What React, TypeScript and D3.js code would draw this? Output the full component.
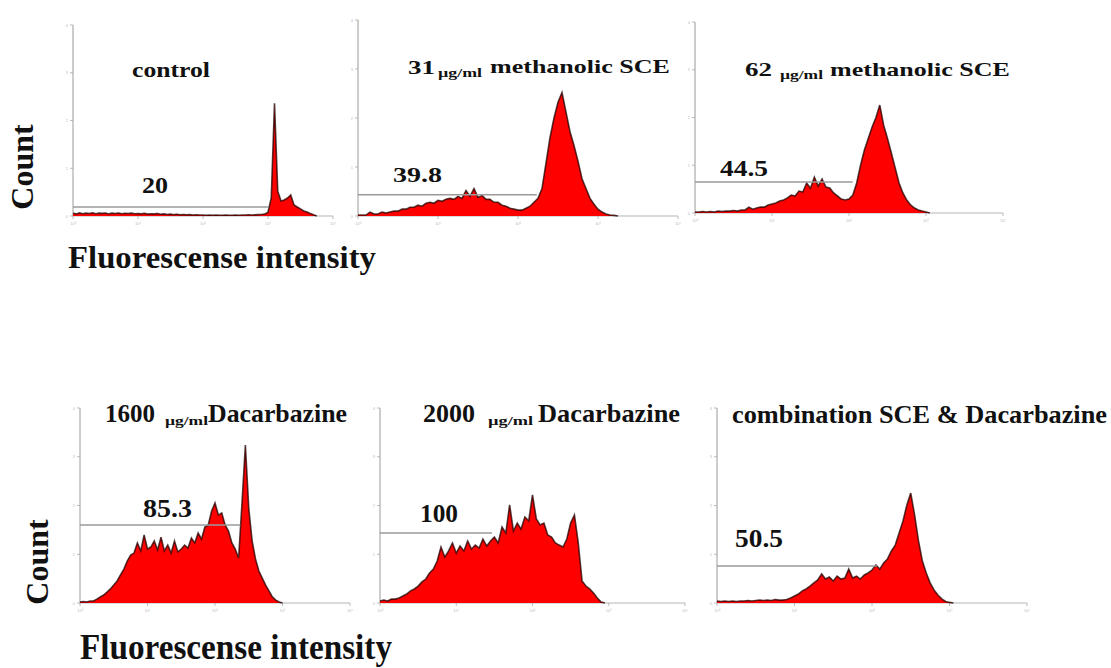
import React from 'react';
import * as d3 from 'd3';

// ---------- data ----------
const binWidth = 3.2; // channel units per histogram bin (256 channels)
const xTickChannels = [0, 64, 128, 192, 256];
const xTickLabels = ['10⁰', '10¹', '10²', '10³', '10⁴'];
const yTickCounts = [0, 25, 50, 75, 100];

const gateLabels = ['20', '39.8', '44.5', '85.3', '100', '50.5'];
const gateEnds = [192, 143, 131, 152, 94, 132];
const gateLevels = [4.7, 10.8, 16.2, 40, 35.9, 19];

const controlCounts = [
  1.4, 1.1, 1.6, 1.2, 1.5, 1.3, 1.7, 1.2, 1.5, 1.4, 1.6, 1.1, 1.5, 1.3, 1.6, 1.2, 1.4, 1.3, 1.5, 1.2,
  1.3, 1.1, 1.4, 1, 1.2, 1.1, 1.3, 0.9, 1.1, 0.8, 1, 0.7, 0.9, 0.6, 0.8, 0.6, 0.7, 0.5, 0.6, 0.5,
  0.5, 0.4, 0.5, 0.4, 0.5, 0.4, 0.4, 0.5, 0.4, 0.4, 0.5, 0.4, 0.5, 0.5, 0.6, 0.5, 0.6, 0.7, 0.8, 1,
  2, 9.4, 59, 13, 7.9, 8.4, 9.4, 11, 5.8, 4.7, 3.7, 2.6, 2.1, 1.3, 0.6, 0,
];
const sce31Counts = [
  0.5, 0.5, 0.5, 2, 1, 1, 2, 1.5, 2, 2.5, 2.5, 3.5, 3.5, 4.5, 4.5, 5.5, 5, 6.5, 7, 6.5,
  8, 7.5, 8.5, 9, 8.5, 10, 9, 13, 10, 14, 9.5, 10.5, 8.5, 8.5, 7, 7, 5.5, 5, 4, 3.5,
  3, 3, 4, 5, 7, 9, 14, 27, 40, 50, 58, 63, 53, 43, 36, 28, 19, 14, 9, 6,
  3.5, 2, 1, 0.5, 0.3, 0,
];
const sce62Counts = [
  0.5, 0.5, 0.8, 0.5, 0.8, 0.5, 1, 0.8, 1, 1, 1.3, 1, 1.6, 1.6, 3, 2, 2.6, 3.1, 3.1, 4.2,
  4.7, 5.2, 6.3, 6.8, 7.9, 9.4, 8.9, 11.5, 11, 15.7, 13, 18.8, 14.1, 17.8, 13.6, 13.1, 10.5, 8.9, 7.3, 6.8,
  7.3, 9.4, 15.7, 25, 33, 39, 45, 50, 56.5, 46, 39, 31.4, 23.6, 15.7, 10.5, 6.8, 4.2, 2.6, 1.6, 1,
  0.5, 0,
];
const dac1600Counts = [
  0.5, 0.8, 0.5, 1, 1, 2, 3.1, 4.1, 5.6, 7.2, 9.2, 11.3, 14.4, 17.4, 21.5, 24.6, 25.6, 30.8, 26.7, 34.9,
  27.7, 28.7, 31.8, 27.2, 33.8, 26.7, 29.7, 25.6, 31.8, 26.2, 27.7, 29.7, 28.2, 33.3, 30.8, 35.9, 32.8, 39, 40, 47.2,
  51.3, 45.1, 46.2, 40, 36.9, 30.8, 27.7, 23.1, 51.3, 81, 48.7, 31.8, 22.6, 16.4, 12.8, 9.2, 6.2, 3.1, 1.5, 0.5,
  0,
];
const dac2000Counts = [
  1, 1.5, 1, 2, 2, 2.6, 3.6, 4.6, 6.2, 7.2, 8.7, 10.8, 12.3, 15.4, 17.4, 21.5, 28.7, 23.6, 26.7, 30.8,
  25.6, 29.2, 26.7, 31.8, 27.7, 29.7, 28.2, 32.8, 29.2, 31.8, 33.8, 30.8, 39, 35.9, 50.3, 36.9, 41, 37.9, 44.1, 42.1,
  55.4, 43.1, 40, 41, 34.9, 33.8, 30.8, 29.7, 28.7, 32.8, 41, 45.1, 30.8, 11.3, 8.7, 7.2, 5.1, 2.6, 0.5, 0,
];
const comboCounts = [
  1, 0.8, 1, 0.8, 1, 0.8, 1, 1, 1.3, 1, 1.3, 1.5, 1.3, 1.5, 1.3, 1.8, 1.5, 1.5, 1.8, 2.6,
  3.6, 4.6, 6.2, 7.2, 8.7, 10.3, 11.8, 14.9, 12.3, 13.3, 11.3, 13.8, 12.3, 12.8, 17.4, 12.8, 13.8, 12.3, 14.4, 15.4,
  16.9, 19.5, 17.4, 20.5, 22.6, 26.7, 29.7, 35.9, 42.1, 50.3, 56.4, 45.1, 31.8, 21.5, 15.4, 10.3, 6.7, 4.1, 2.1, 0.8,
  0.3, 0,
];
const allCounts = [controlCounts, sce31Counts, sce62Counts, dac1600Counts, dac2000Counts, comboCounts];

// ---------- layout ----------
const FONT = "'Times New Roman', 'Liberation Serif', 'DejaVu Serif', serif";
const panels = [
  { left: 73, right: 333, top: 25, base: 216 },
  { left: 358, right: 678, top: 20, base: 216 },
  { left: 695, right: 1003, top: 22, base: 213 },
  { left: 80, right: 350, top: 408, base: 603 },
  { left: 380, right: 685, top: 408, base: 603 },
  { left: 717, right: 1027, top: 408, base: 603 },
];
const gateLabelPos = [
  { x: 142, y: 193, len: 26, fs: 23 },
  { x: 393, y: 182, len: 49, fs: 22 },
  { x: 720, y: 176, len: 48, fs: 24 },
  { x: 143, y: 517, len: 49, fs: 25 },
  { x: 420, y: 522, len: 38, fs: 25 },
  { x: 735, y: 547, len: 48, fs: 25 },
];
type Piece = { t: string; x: number; y: number; len: number; fs: number };
const titles: Piece[][] = [
  [{ t: 'control', x: 132, y: 77, len: 78, fs: 21 }],
  [
    { t: '31', x: 408, y: 74, len: 27, fs: 19 },
    { t: 'µg/ml', x: 438, y: 77, len: 44, fs: 12 },
    { t: 'methanolic SCE', x: 490, y: 73, len: 180, fs: 19 },
  ],
  [
    { t: '62', x: 745, y: 76, len: 27, fs: 19 },
    { t: 'µg/ml', x: 780, y: 79, len: 43, fs: 12 },
    { t: 'methanolic SCE', x: 830, y: 76, len: 180, fs: 19 },
  ],
  [
    { t: '1600', x: 105, y: 422, len: 50, fs: 25 },
    { t: 'µg/ml', x: 165, y: 425, len: 43, fs: 13 },
    { t: 'Dacarbazine', x: 208, y: 422, len: 139, fs: 25 },
  ],
  [
    { t: '2000', x: 423, y: 422, len: 52, fs: 25 },
    { t: 'µg/ml', x: 488, y: 425, len: 45, fs: 13 },
    { t: 'Dacarbazine', x: 538, y: 422, len: 142, fs: 25 },
  ],
  [{ t: 'combination SCE & Dacarbazine', x: 732, y: 423, len: 375, fs: 25 }],
];

function Panel({ idx }: { idx: number }) {
  const p = panels[idx];
  const counts = allCounts[idx];
  const x = d3.scaleLinear().domain([0, 256]).range([p.left, p.right]);
  const y = d3.scaleLinear().domain([0, 100]).range([p.base, p.top]);
  const pts = counts.map((c, i) => [i * binWidth, c] as [number, number]);
  const area = d3
    .area<[number, number]>()
    .x((d) => x(d[0]))
    .y0(y(0))
    .y1((d) => y(d[1]))
    .curve(d3.curveLinear);
  const line = d3
    .line<[number, number]>()
    .x((d) => x(d[0]))
    .y((d) => y(d[1]))
    .curve(d3.curveLinear);
  return (
    <g>
      {/* axes */}
      <line x1={p.left} x2={p.left} y1={y(100)} y2={y(0)} stroke="#9a9a9a" strokeWidth={1} />
      <line x1={p.left} x2={p.right} y1={y(0)} y2={y(0)} stroke="#b5b5b5" strokeWidth={1} />
      {xTickChannels.map((c, i) => (
        <g key={'xt' + i}>
          <line x1={x(c)} x2={x(c)} y1={y(0)} y2={y(0) + 3} stroke="#aaa" strokeWidth={0.8} />
          <text x={x(c)} y={y(0) + 9} fontSize={4} fill="#bbb" textAnchor="middle" fontFamily="sans-serif">
            {xTickLabels[i]}
          </text>
        </g>
      ))}
      {yTickCounts.map((c, i) => (
        <g key={'yt' + i}>
          <line x1={p.left - 3} x2={p.left} y1={y(c)} y2={y(c)} stroke="#aaa" strokeWidth={0.8} />
          <text x={p.left - 5} y={y(c) + 1.5} fontSize={4} fill="#bbb" textAnchor="end" fontFamily="sans-serif">
            {i}
          </text>
        </g>
      ))}
      {/* histogram */}
      <path d={area(pts) || ''} fill="#ff0000" />
      <path
        d={line(pts) || ''}
        fill="none"
        stroke="#200000"
        strokeWidth={1.6}
        strokeOpacity={0.75}
        strokeLinejoin="miter"
      />
      {/* gate marker */}
      <line
        x1={x(0)}
        x2={x(gateEnds[idx])}
        y1={y(gateLevels[idx])}
        y2={y(gateLevels[idx])}
        stroke="#9a9a9a"
        strokeWidth={1.5}
      />
      <text
        x={gateLabelPos[idx].x}
        y={gateLabelPos[idx].y}
        fontSize={gateLabelPos[idx].fs}
        textLength={gateLabelPos[idx].len}
        lengthAdjust="spacingAndGlyphs"
        fontFamily={FONT}
        fontWeight="bold"
        fill="#111"
      >
        {gateLabels[idx]}
      </text>
      {titles[idx].map((t, i) => (
        <text
          key={'ti' + i}
          x={t.x}
          y={t.y}
          fontSize={t.fs}
          textLength={t.len}
          lengthAdjust="spacingAndGlyphs"
          fontFamily={FONT}
          fontWeight="bold"
          fill="#111"
        >
          {t.t}
        </text>
      ))}
    </g>
  );
}

export default function App() {
  return (
    <svg
      width={1111}
      height={668}
      style={{ position: 'absolute', left: 0, top: 0, background: '#fff' }}
    >
      <rect x={0} y={0} width={1111} height={668} fill="#fff" />
      {panels.map((_, i) => (
        <Panel key={i} idx={i} />
      ))}
      <text
        transform="translate(33,167) rotate(-90)"
        textAnchor="middle"
        fontSize={32}
        fontFamily={FONT}
        fontWeight="bold"
        fill="#111"
      >
        Count
      </text>
      <text
        transform="translate(48,562) rotate(-90)"
        textAnchor="middle"
        fontSize={32}
        fontFamily={FONT}
        fontWeight="bold"
        fill="#111"
      >
        Count
      </text>
      <text x={68} y={268} fontSize={32} textLength={308} lengthAdjust="spacingAndGlyphs" fontFamily={FONT} fontWeight="bold" fill="#111">
        Fluorescense intensity
      </text>
      <g transform="translate(80,659) scale(1,1.2)">
        <text x={0} y={0} fontSize={30} textLength={312} lengthAdjust="spacingAndGlyphs" fontFamily={FONT} fontWeight="bold" fill="#111">
          Fluorescense intensity
        </text>
      </g>
    </svg>
  );
}
